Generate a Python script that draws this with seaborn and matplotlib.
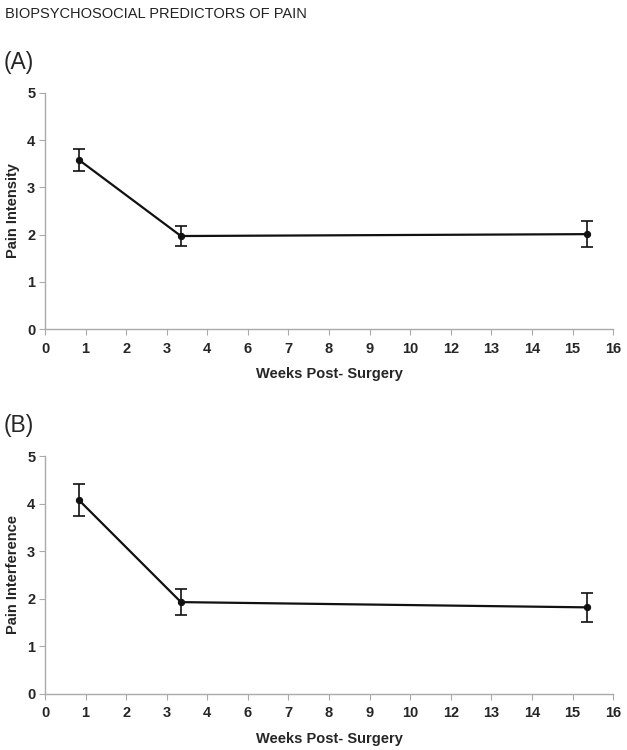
import numpy as np
import pandas as pd
import matplotlib
matplotlib.use('Agg')
import matplotlib.pyplot as plt
import seaborn as sns

sns.set_style('white')
plt.rcParams['font.family'] = ['Liberation Sans', 'DejaVu Sans']

# x axis of the original is evenly spaced ticks, labels skip 5 and 11
tick_labels = ['0', '1', '2', '3', '4', '6', '7', '8', '9', '10', '12', '13', '14', '15', '16']
weeks = [0.84, 3.35, 13.35]   # positions on that tick scale
intensity = [3.58, 1.97, 2.01]
intensity_err = [0.23, 0.22, 0.28]
interference = [4.07, 1.93, 1.82]
interference_err = [0.34, 0.27, 0.30]

panels = [
    ('(A)', 'Pain Intensity', intensity, intensity_err, [0.0718, 0.5613, 0.906, 0.3147]),
    ('(B)', 'Pain Interference', interference, interference_err, [0.0718, 0.0747, 0.906, 0.3173]),
]

fig = plt.figure(figsize=(6.27, 7.5), dpi=100)
fig.text(0.008, 0.982, 'BIOPSYCHOSOCIAL PREDICTORS OF PAIN', fontsize=10.5, color='#222222', va='center')

for tag, ylabel, vals, errs, rect in panels:
    ax = fig.add_axes(rect)
    df = pd.DataFrame({'week': weeks, 'score': vals})
    sns.lineplot(data=df, x='week', y='score', ax=ax, color='#111111', linewidth=1.6,
                 marker='o', markersize=4.5, markeredgecolor='#111111')
    ax.errorbar(weeks, vals, yerr=errs, fmt='none', ecolor='#111111', elinewidth=1.2, capsize=4, capthick=1.2)
    ax.set_xlim(0, len(tick_labels) - 1)
    ax.set_ylim(0, 5)
    ax.set_xticks(range(len(tick_labels)))
    ax.set_xticklabels(tick_labels)
    ax.set_yticks(range(0, 6))
    sns.despine(ax=ax)
    for s in ['left', 'bottom']:
        ax.spines[s].set_color('#aaaaaa')
        ax.spines[s].set_linewidth(1.0)
    ax.tick_params(axis='both', direction='out', length=4, color='#aaaaaa', labelsize=10.5,
                   bottom=True, left=True)
    ax.tick_params(axis='x', pad=5)
    ax.tick_params(axis='y', pad=3)
    for lbl in ax.get_xticklabels() + ax.get_yticklabels():
        lbl.set_fontweight('bold')
    ax.set_xlabel('Weeks Post- Surgery', fontsize=10.5, fontweight='bold', labelpad=8)
    ax.set_ylabel(ylabel, fontsize=10.5, fontweight='bold', labelpad=5)
    top = rect[1] + rect[3]
    fig.text(0.005, top + 0.041, tag, fontsize=16.5, va='center')

fig.savefig('out.png', dpi=100)
